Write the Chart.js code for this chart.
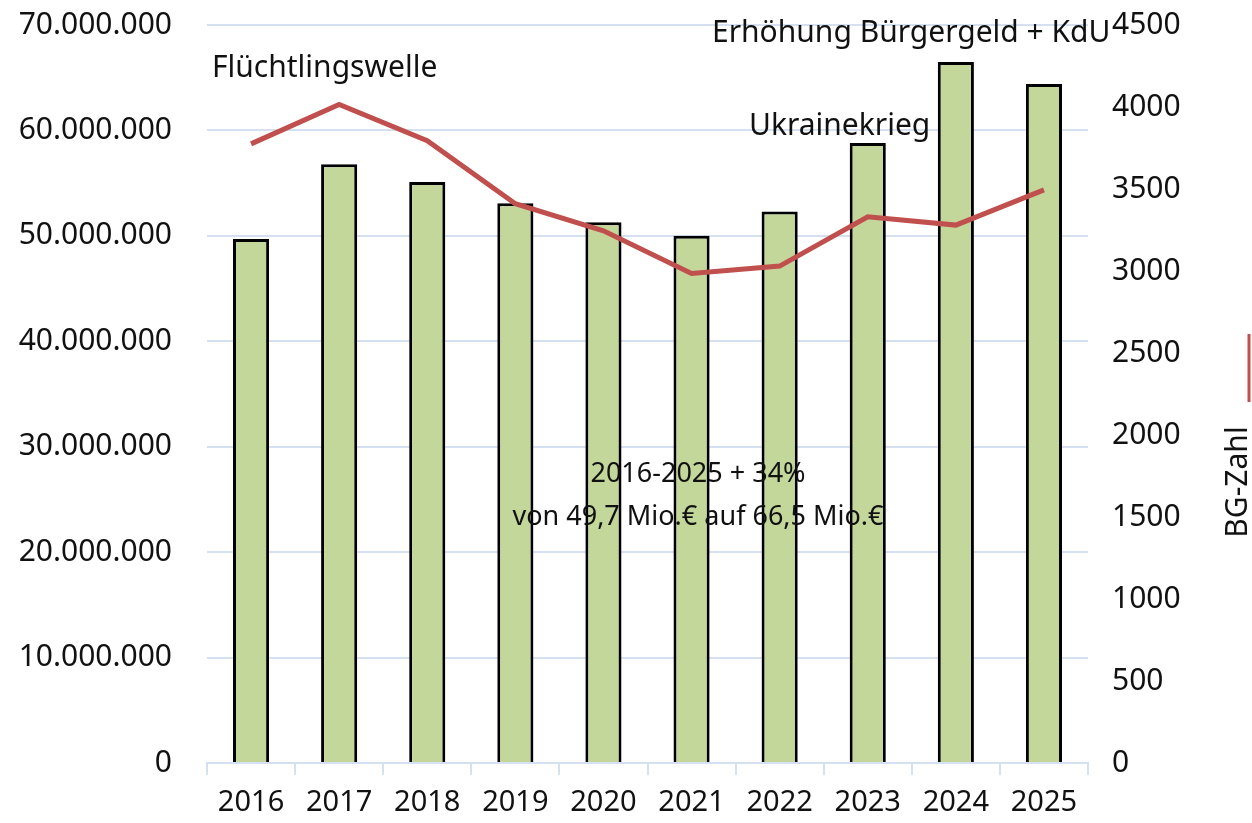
<!DOCTYPE html>
<html lang="de">
<head>
  <meta charset="UTF-8" />
  <title>Kosten und BG-Zahl 2016-2025</title>
  <script src="https://cdn.jsdelivr.net/npm/chart.js"></script>
  <style>
    html, body { margin: 0; padding: 0; background: #fff; }
    #wrap { width: 1252px; height: 823px; }
  </style>
</head>
<body>
  <div id="wrap"><canvas id="chart" width="1252" height="823"></canvas></div>

  <script>
    // data
    const years = ['2016', '2017', '2018', '2019', '2020', '2021', '2022', '2023', '2024', '2025'];
    const kosten = [49700000, 56800000, 55100000, 53100000, 51300000, 50000000, 52300000, 58800000, 66500000, 64400000];
    const bgZahl = [3775, 4015, 3795, 3410, 3245, 2985, 3030, 3330, 3280, 3495];
    const leftTicks = [0, 10000000, 20000000, 30000000, 40000000, 50000000, 60000000, 70000000];
    const rightTicks = [0, 500, 1000, 1500, 2000, 2500, 3000, 3500, 4000, 4500];

    const FONT = '"Noto Sans", "Open Sans", sans-serif';
    const gridBlue = '#d5e1f1';

    const fmt = v => String(v).replace(/\B(?=(\d{3})+(?!\d))/g, '.');

    // free text labels on the chart
    const notes = {
      id: 'notes',
      afterDatasetsDraw(chart) {
        const c = chart.ctx;
        c.save();
        c.fillStyle = '#111';
        c.font = '30px ' + FONT;
        c.textBaseline = 'middle';
        c.textAlign = 'left';
        c.fillText('Flüchtlingswelle', 212, 68);
        c.fillText('Erhöhung Bürgergeld + KdU', 712, 33);
        c.fillText('Ukrainekrieg', 749, 126);
        c.font = '27px ' + FONT;
        c.textAlign = 'center';
        c.fillText('2016-2025 + 34%', 698, 474);
        c.fillText('von 49,7 Mio.€ auf 66,5 Mio.€', 698, 517);

        // right axis title with line marker
        c.translate(1238, 482);
        c.rotate(-Math.PI / 2);
        c.font = '30px ' + FONT;
        c.fillText('BG-Zahl', 0, 0);
        c.strokeStyle = '#c0504d';
        c.lineWidth = 3;
        c.beginPath();
        c.moveTo(80, 11);
        c.lineTo(148, 11);
        c.stroke();
        c.restore();
      }
    };

    new Chart(document.getElementById('chart'), {
      type: 'bar',
      data: {
        labels: years,
        datasets: [
          {
            type: 'line',
            label: 'BG-Zahl',
            data: bgZahl,
            yAxisID: 'y1',
            borderColor: '#c0504d',
            borderWidth: 5,
            pointRadius: 0,
            tension: 0,
            order: 0
          },
          {
            label: 'Kosten',
            data: kosten,
            yAxisID: 'y',
            backgroundColor: '#c4d79b',
            borderColor: '#000',
            borderWidth: 3,
            categoryPercentage: 1,
            barPercentage: 0.41,
            order: 1
          }
        ]
      },
      options: {
        responsive: false,
        animation: false,
        layout: { padding: { top: 25, bottom: 0, left: 0, right: 0 } },
        plugins: { legend: { display: false }, tooltip: { enabled: false } },
        scales: {
          x: {
            grid: {
              offset: true,
              drawOnChartArea: false,
              drawTicks: true,
              tickLength: 12,
              color: gridBlue,
              lineWidth: 2
            },
            border: { color: gridBlue, width: 2 },
            ticks: { color: '#111', font: { family: FONT, size: 29 }, padding: 10 },
            afterFit(s) { s.height = 60; }
          },
          y: {
            position: 'left',
            min: 0,
            max: 70000000,
            afterBuildTicks(s) { s.ticks = leftTicks.map(v => ({ value: v })); },
            grid: { color: gridBlue, lineWidth: 2, drawTicks: false },
            border: { display: false },
            ticks: {
              color: '#111',
              font: { family: FONT, size: 30 },
              padding: 35,
              callback: v => fmt(v)
            },
            afterFit(s) { s.width = 207; s.paddingTop = 0; s.paddingBottom = 0; }
          },
          y1: {
            position: 'right',
            min: 0,
            max: 4500,
            afterBuildTicks(s) { s.ticks = rightTicks.map(v => ({ value: v })); },
            grid: { drawOnChartArea: false, drawTicks: false },
            border: { display: false },
            ticks: {
              color: '#111',
              font: { family: FONT, size: 30 },
              padding: 24,
              callback: v => String(v)
            },
            afterFit(s) { s.width = 164; s.paddingTop = 0; s.paddingBottom = 0; }
          }
        }
      },
      plugins: [notes]
    });
  </script>
</body>
</html>
